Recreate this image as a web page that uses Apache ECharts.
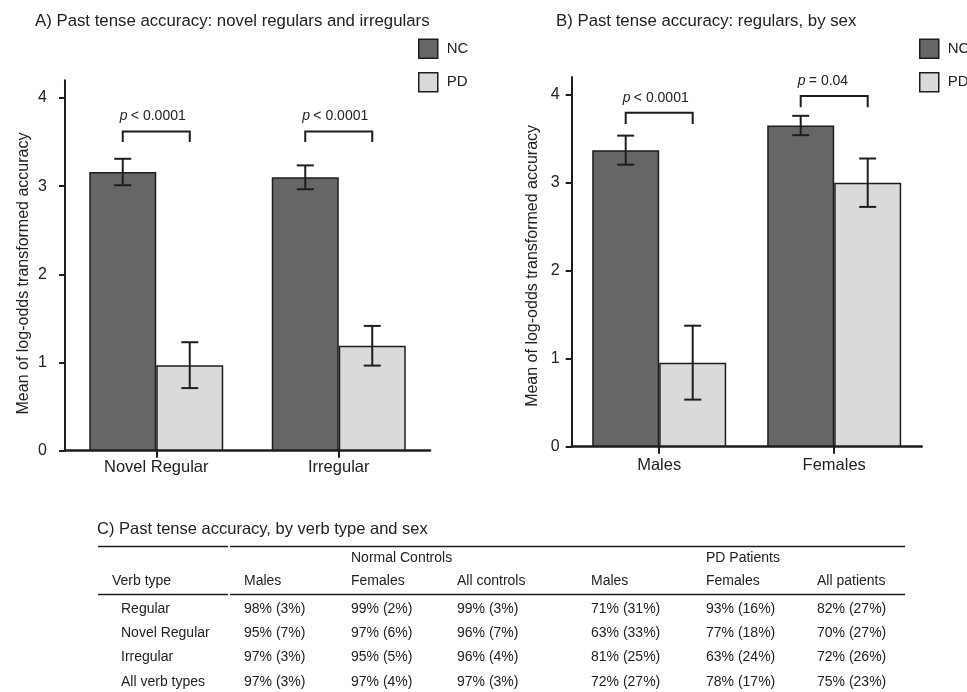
<!DOCTYPE html>
<html><head><meta charset="utf-8">
<script src="https://cdn.jsdelivr.net/npm/echarts@6/dist/echarts.min.js"></script>
<style>html,body{margin:0;padding:0;background:#fff}#c{width:967px;height:692px}</style>
</head><body><div id="c"></div>
<script>
// ---------- Panel A: novel regulars and irregulars ----------
const catsA = ['Novel Regular', 'Irregular'];
const ncA = [3.16, 3.10];
const ncErrA = [0.15, 0.135];
const pdA = [0.97, 1.19];
const pdErrA = [0.26, 0.225];
const pLabelsA = ['< 0.0001', '< 0.0001'];
const bracketTopA = [3.62, 3.62];
const bracketLegA = [3.50, 3.50];

// ---------- Panel B: regulars, by sex ----------
const catsB = ['Males', 'Females'];
const ncB = [3.37, 3.65];
const ncErrB = [0.165, 0.11];
const pdB = [0.955, 3.00];
const pdErrB = [0.42, 0.275];
const pLabelsB = ['< 0.0001', '= 0.04'];
const bracketTopB = [3.795, 3.985];
const bracketLegB = [3.667, 3.857];

const yTicks = [0, 1, 2, 3, 4];
const groupNames = ['NC', 'PD'];
const titleA = 'A) Past tense accuracy: novel regulars and irregulars';
const titleB = 'B) Past tense accuracy: regulars, by sex';
const yName = 'Mean of log-odds transformed accuracy';

// ---------- Panel C: table ----------
const tableTitle = 'C) Past tense accuracy, by verb type and sex';
const groupHeaders = ['Normal Controls', 'PD Patients'];
const rowHeader = 'Verb type';
const colHeaders = ['Males', 'Females', 'All controls', 'Males', 'Females', 'All patients'];
const verbTypes = ['Regular', 'Novel Regular', 'Irregular', 'All verb types'];
const tableValues = [
  ['98% (3%)', '99% (2%)', '99% (3%)', '71% (31%)', '93% (16%)', '82% (27%)'],
  ['95% (7%)', '97% (6%)', '96% (7%)', '63% (33%)', '77% (18%)', '70% (27%)'],
  ['97% (3%)', '95% (5%)', '96% (4%)', '81% (25%)', '63% (24%)', '72% (26%)'],
  ['97% (3%)', '97% (4%)', '97% (3%)', '72% (27%)', '78% (17%)', '75% (23%)']
];

// ---------- styling ----------
const FONT = '"Liberation Sans", Arial, Helvetica, sans-serif';
const INK = '#1e1e1e';
const TXT = '#222222';
const NC_COLOR = '#666668';
const PD_COLOR = '#d9dadc';
const BAR_W = 67;

const chart = echarts.init(document.getElementById('c'), null, {renderer: 'canvas'});

function errRender(sign) {
  return function (params, api) {
    const c = api.value(0), m = api.value(1), e = api.value(2);
    const top = api.coord([c, m + e]);
    const bot = api.coord([c, m - e]);
    const x = top[0] + sign * BAR_W / 2;
    const cap = 8.5;
    const st = {stroke: INK, lineWidth: 2};
    return {type: 'group', children: [
      {type: 'line', shape: {x1: x, y1: top[1], x2: x, y2: bot[1]}, style: st},
      {type: 'line', shape: {x1: x - cap, y1: top[1], x2: x + cap, y2: top[1]}, style: st},
      {type: 'line', shape: {x1: x - cap, y1: bot[1], x2: x + cap, y2: bot[1]}, style: st}
    ]};
  };
}

function bracketRender(labels) {
  return function (params, api) {
    const c = api.value(0), t = api.value(1), l = api.value(2);
    const pt = api.coord([c, t]);
    const pl = api.coord([c, l]);
    const x1 = pt[0] - BAR_W / 2, x2 = pt[0] + BAR_W / 2;
    return {type: 'group', children: [
      {type: 'polyline', shape: {points: [[x1, pl[1]], [x1, pt[1]], [x2, pt[1]], [x2, pl[1]]]},
        style: {stroke: INK, lineWidth: 2, fill: 'none'}},
      {type: 'text', x: x1 - 3, y: pt[1] - 15, style: {
        text: '{i|p} {n|' + labels[params.dataIndex] + '}',
        align: 'left', verticalAlign: 'middle', fill: TXT,
        rich: {
          i: {fontStyle: 'italic', fontSize: 14, fontFamily: FONT, fill: TXT},
          n: {fontSize: 14, fontFamily: FONT, fill: TXT}
        }
      }}
    ]};
  };
}

function xAxisFor(cats, gi, margin) {
  return {
    type: 'category', gridIndex: gi, data: cats,
    axisLine: {show: true, lineStyle: {color: INK, width: 2.5}},
    axisTick: {show: true, alignWithLabel: true, length: 7, lineStyle: {color: INK, width: 2}},
    axisLabel: {fontSize: 16.5, color: TXT, margin: margin, fontFamily: FONT},
    splitLine: {show: false}
  };
}
function yAxisFor(gi, labelMargin, nameGap, namePad) {
  return {
    type: 'value', gridIndex: gi, min: 0, max: 4.2,
    name: yName, nameLocation: 'middle', nameGap: nameGap,
    nameTextStyle: {fontSize: 16, color: TXT, fontFamily: FONT, padding: [0, namePad, 0, 0]},
    axisLine: {show: true, lineStyle: {color: INK, width: 2}},
    axisTick: {show: true, length: 6, customValues: yTicks, lineStyle: {color: INK, width: 2}},
    axisLabel: {fontSize: 16, color: TXT, margin: labelMargin, customValues: yTicks, fontFamily: FONT},
    splitLine: {show: false}
  };
}

function barSeries(name, vals, color, gi) {
  return {
    name: name, type: 'bar', xAxisIndex: gi, yAxisIndex: gi,
    data: vals, barWidth: BAR_W, barGap: '0%',
    itemStyle: {color: color, borderColor: INK, borderWidth: 1.5},
    z: 2
  };
}
function errSeries(name, means, errs, sign, gi) {
  return {
    name: name, type: 'custom', xAxisIndex: gi, yAxisIndex: gi,
    renderItem: errRender(sign),
    encode: {x: 0, y: 1},
    data: means.map((m, i) => [i, m, errs[i]]),
    z: 5, silent: true
  };
}
function bracketSeries(name, tops, legs, labels, gi) {
  return {
    name: name, type: 'custom', xAxisIndex: gi, yAxisIndex: gi,
    renderItem: bracketRender(labels),
    encode: {x: 0, y: 1},
    data: tops.map((t, i) => [i, t, legs[i]]),
    z: 5, silent: true
  };
}

// ---------- table graphics ----------
const graphics = [];
function txt(x, y, s, size) {
  graphics.push({type: 'text', x: x, y: y, silent: true,
    style: {text: s, fontSize: size || 14, fontFamily: FONT, fill: TXT, align: 'left', verticalAlign: 'middle'}});
}
function hline(x1, x2, y) {
  graphics.push({type: 'line', silent: true, shape: {x1: x1, y1: y, x2: x2, y2: y},
    style: {stroke: INK, lineWidth: 1.5}});
}
txt(97, 529, tableTitle, 16.5);
hline(98, 228, 546.5); hline(230, 905, 546.5);
hline(98, 228, 594.5); hline(230, 905, 594.5);
const colX = [244, 351, 457, 591, 706, 817];
txt(colX[1], 558.5, groupHeaders[0]);
txt(colX[4], 558.5, groupHeaders[1]);
txt(112, 581.5, rowHeader);
colHeaders.forEach((h, j) => txt(colX[j], 581.5, h));
const rowY = [609, 633, 657.5, 682];
verbTypes.forEach((v, i) => {
  txt(121, rowY[i], v);
  tableValues[i].forEach((s, j) => txt(colX[j], rowY[i], s));
});

const legendData = [
  {name: 'NC', itemStyle: {color: NC_COLOR, borderColor: INK, borderWidth: 1.5}},
  {name: 'PD', itemStyle: {color: PD_COLOR, borderColor: INK, borderWidth: 1.5}}
];
function legendAt(left) {
  return {
    left: left, top: 38.5, orient: 'vertical', padding: 0,
    itemWidth: 19, itemHeight: 19, itemGap: 13, icon: 'rect',
    data: legendData, selectedMode: false,
    textStyle: {fontSize: 15, color: TXT, fontFamily: FONT, padding: [0, 0, 0, 4]}
  };
}

const option = {
  animation: false,
  backgroundColor: '#ffffff',
  textStyle: {fontFamily: FONT},
  title: [
    {text: titleA, left: 35, top: 13, padding: 0, textStyle: {fontSize: 16.8, fontWeight: 'normal', color: TXT, fontFamily: FONT}},
    {text: titleB, left: 556, top: 13, padding: 0, textStyle: {fontSize: 16.8, fontWeight: 'normal', color: TXT, fontFamily: FONT}}
  ],
  legend: [legendAt(418), legendAt(919)],
  grid: [
    {left: 65, top: 80.3, width: 365, height: 370.4},
    {left: 571.7, top: 77.1, width: 350, height: 369.6}
  ],
  xAxis: [xAxisFor(catsA, 0, 8), xAxisFor(catsB, 1, 10)],
  yAxis: [yAxisFor(0, 18, 33, 16), yAxisFor(1, 12, 31, 8)],
  series: [
    barSeries(groupNames[0], ncA, NC_COLOR, 0),
    barSeries(groupNames[1], pdA, PD_COLOR, 0),
    errSeries('errA_NC', ncA, ncErrA, -1, 0),
    errSeries('errA_PD', pdA, pdErrA, 1, 0),
    bracketSeries('brA', bracketTopA, bracketLegA, pLabelsA, 0),
    barSeries(groupNames[0], ncB, NC_COLOR, 1),
    barSeries(groupNames[1], pdB, PD_COLOR, 1),
    errSeries('errB_NC', ncB, ncErrB, -1, 1),
    errSeries('errB_PD', pdB, pdErrB, 1, 1),
    bracketSeries('brB', bracketTopB, bracketLegB, pLabelsB, 1)
  ],
  graphic: graphics
};
chart.setOption(option);
</script>
</body></html>
